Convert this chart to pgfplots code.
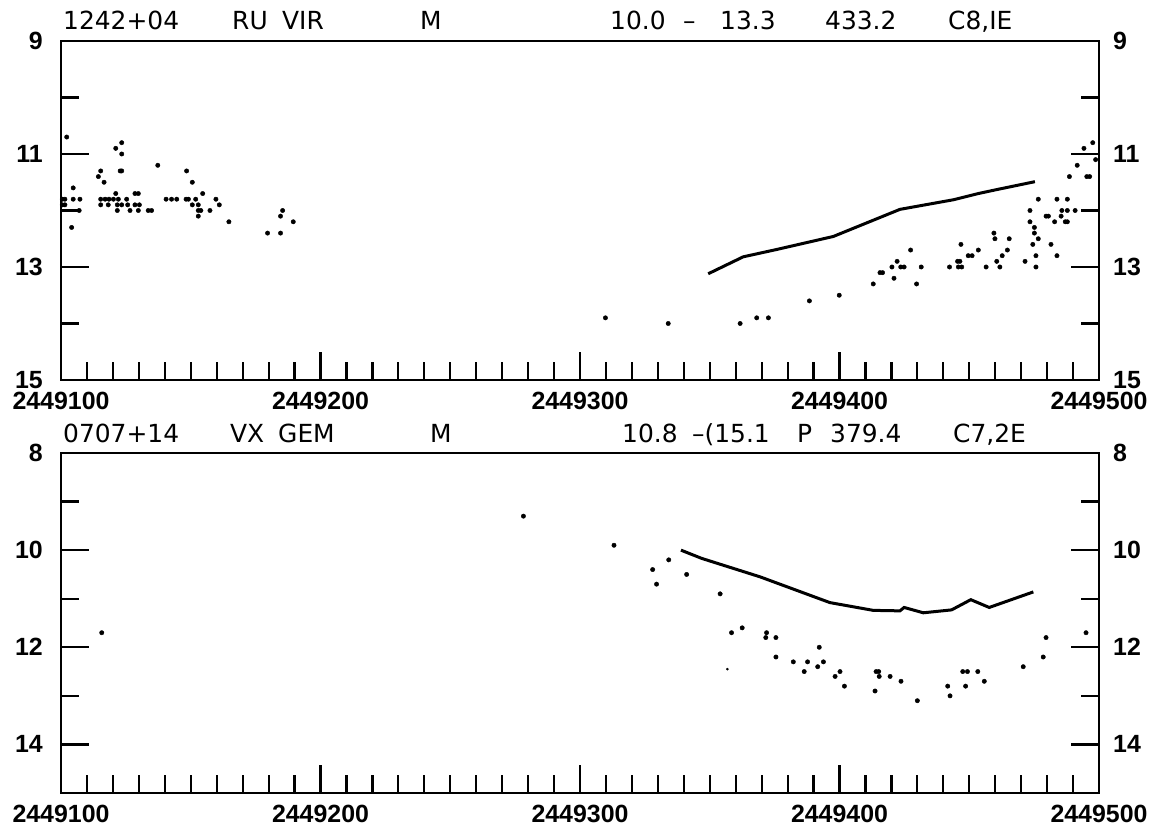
\documentclass[border=0pt]{standalone}
\usepackage{fontspec}
\setmainfont{Liberation Sans}
\newfontfamily\titlefont{DejaVu Sans}
\usepackage{pgfplots}
\pgfplotsset{compat=1.18}
% x values are JD - 2449000
\pgfplotsset{
  lc/.style={
    scale only axis, width=1038bp,
    xmin=100, xmax=500, y dir=reverse,
    xtick={100,200,300,400,500},
    xticklabels={2449100,2449200,2449300,2449400,2449500},
    minor x tick num=9,
    xtick pos=left, ytick pos=both,
    tick align=inside,
    major tick length=28bp, minor tick length=18bp,
    axis line style={line width=2.4bp},
    tick style={line width=2.2bp, black},
    ticklabel style={font=\fontsize{25}{25}\selectfont\bfseries, inner sep=0pt},
    /pgf/number format/assume math mode=true,
    xticklabel style={yshift=-12bp},
    clip=false,
  },
  rlab/.style={
    hide x axis, y axis line style={draw=none}, ytick style={draw=none},
    yticklabel pos=right, yticklabel style={xshift=14bp},
  },
  dots/.style={only marks, mark=*, mark size=2.2bp, black},
  curve/.style={line width=3bp, black, no marks},
}
\begin{document}
\begin{tikzpicture}[x=1bp,y=1bp]
\useasboundingbox (0,0) rectangle (1154,829);
% ---------------- top panel ----------------
\begin{axis}[lc, at={(61bp,449bp)}, anchor=south west, height=339bp,
  ymin=9, ymax=15, ytick={9,11,13,15}, minor ytick={10,12,14},
  yticklabel style={xshift=-18bp}]
\addplot[dots] table {
100.5 11.8
101.5 11.8
100.5 11.9
101.5 11.9
102.2 10.7
104.7 11.6
104.7 11.8
107.3 11.8
107.0 12.0
104.1 12.3
114.4 11.4
115.3 11.3
116.6 11.5
115.3 11.8
117.0 11.8
118.5 11.8
120.2 11.8
122.1 11.8
115.3 11.9
118.2 11.9
121.7 11.9
123.4 11.9
121.1 11.7
121.7 12.0
121.1 10.9
123.4 10.8
123.4 11.0
122.8 11.3
123.4 11.3
125.3 11.8
125.7 11.9
126.6 12.0
128.5 11.7
129.8 11.7
128.5 11.9
130.2 11.9
129.8 12.0
133.6 12.0
134.9 12.0
137.3 11.2
140.5 11.8
142.6 11.8
144.6 11.8
148.4 11.3
150.6 11.5
148.2 11.8
149.1 11.8
150.6 11.9
151.9 11.8
152.9 11.9
152.9 12.0
153.9 12.0
152.9 12.1
154.6 11.7
157.4 12.0
159.7 11.8
161.0 11.9
164.7 12.2
179.6 12.4
184.6 12.4
184.6 12.1
185.4 12.0
189.5 12.2
309.8 13.9
334.0 14.0
361.7 14.0
368.1 13.9
372.6 13.9
388.4 13.6
399.9 13.5
413.0 13.3
415.6 13.1
416.6 13.1
420.2 13.0
421.0 13.2
422.2 12.9
423.6 13.0
424.9 13.0
427.4 12.7
429.7 13.3
431.5 13.0
442.4 13.0
445.5 12.9
446.4 12.9
445.8 13.0
447.1 13.0
446.8 12.6
449.6 12.8
451.1 12.8
453.5 12.7
456.5 13.0
459.5 12.4
459.9 12.5
460.6 12.9
461.8 13.0
462.7 12.8
464.7 12.7
465.4 12.5
471.5 12.9
473.4 12.0
473.4 12.2
475.1 12.3
475.1 12.4
476.6 12.5
474.5 12.6
475.7 12.8
475.7 13.0
476.6 11.8
479.6 12.1
480.5 12.1
481.5 12.6
482.9 12.2
483.8 11.8
483.8 12.8
485.4 12.1
485.7 12.0
487.0 12.2
487.8 12.2
487.8 11.8
487.8 12.0
490.8 12.0
488.6 11.4
491.6 11.2
494.2 10.9
497.6 10.8
495.3 11.4
496.4 11.4
498.7 11.1
};
\addplot[curve] table {
349.4 13.12
362.9 12.82
375.8 12.69
397.6 12.46
423.3 11.98
443.9 11.81
453.5 11.70
460.6 11.63
475.3 11.49
};
\end{axis}
\begin{axis}[lc, rlab, at={(61bp,449bp)}, anchor=south west, height=339bp,
  ymin=9, ymax=15, ytick={9,11,13,15}, minor ytick={}]
\addplot[draw=none] coordinates {(100,9)};
\end{axis}
% ---------------- bottom panel ----------------
\begin{axis}[lc, at={(61bp,36bp)}, anchor=south west, height=340bp,
  ymin=8, ymax=15, ytick={8,10,12,14}, minor ytick={9,11,13},
  yticklabel style={xshift=-18bp}]
\addplot[dots] table {
115.7 11.7
278.2 9.3
313.1 9.9
328.0 10.4
329.5 10.7
334.2 10.2
341.1 10.5
354.0 10.9
358.4 11.7
362.5 11.6
371.9 11.7
371.6 11.8
375.5 11.8
375.5 12.2
382.2 12.3
386.4 12.5
387.7 12.3
391.6 12.4
392.2 12.0
393.8 12.3
398.3 12.6
400.2 12.5
401.9 12.8
413.7 12.9
414.1 12.5
415.1 12.5
415.3 12.6
419.5 12.6
423.7 12.7
430.0 13.1
441.7 12.8
442.6 13.0
447.5 12.5
449.3 12.5
448.6 12.8
453.3 12.5
455.8 12.7
470.8 12.4
478.5 12.2
479.6 11.8
495.0 11.7
};
\addplot[only marks, mark=*, mark size=1.1bp, black] table {
356.8 12.45
};
\addplot[curve] table {
338.9 10.00
346.9 10.17
369.4 10.55
396.3 11.08
413.0 11.24
423.3 11.25
424.9 11.18
432.3 11.29
443.2 11.23
450.6 11.02
457.7 11.18
474.7 10.86
};
\end{axis}
\begin{axis}[lc, rlab, at={(61bp,36bp)}, anchor=south west, height=340bp,
  ymin=8, ymax=15, ytick={8,10,12,14}, minor ytick={}]
\addplot[draw=none] coordinates {(100,9)};
\end{axis}
% ---------------- headers ----------------
\begin{scope}[every node/.style={anchor=base west, inner sep=0pt,
    font=\titlefont\fontsize{25}{25}\selectfont}]
\node at (63,799) {1242+04};
\node at (232,799) {RU};
\node at (282,799) {VIR};
\node at (420,799) {M};
\node at (610,799) {10.0};
\node at (683,799) {\textendash};
\node at (720,799) {13.3};
\node at (825,799) {433.2};
\node at (948,799) {C8,IE};
\node at (63,386) {0707+14};
\node at (230,386) {VX};
\node at (278,386) {GEM};
\node at (430,386) {M};
\node at (622,386) {10.8};
\node at (692,386) {\textendash(15.1};
\node at (797,386) {P};
\node at (830,386) {379.4};
\node at (953,386) {C7,2E};
\end{scope}
\end{tikzpicture}
\end{document}
